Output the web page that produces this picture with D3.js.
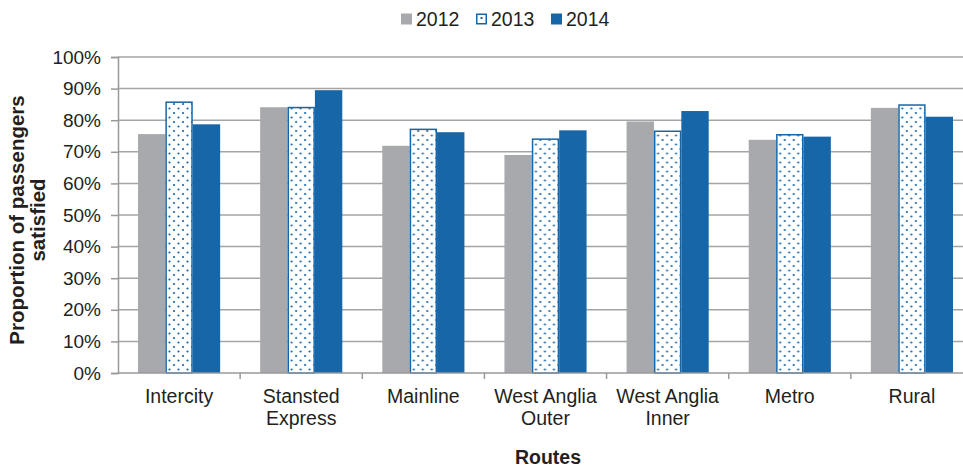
<!DOCTYPE html>
<html>
<head>
<meta charset="utf-8">
<script src="https://cdn.jsdelivr.net/npm/d3@7"></script>
<style>
  body { margin: 0; background: #fff; }
  svg { font-family: "Liberation Sans", Arial, sans-serif; display: block; }
</style>
</head>
<body>
<div id="chart"></div>
<script>

// data
const routes = ["Intercity", "Stansted Express", "Mainline", "West Anglia Outer", "West Anglia Inner", "Metro", "Rural"];
const years = ["2012", "2013", "2014"];
const values2012 = [75.6, 84.1, 71.9, 69.0, 79.6, 73.8, 83.9];
const values2013 = [85.7, 84.0, 77.1, 74.0, 76.5, 75.4, 84.8];
const values2014 = [78.7, 89.5, 76.2, 76.8, 82.9, 74.8, 81.1];
const yTicks = [0, 10, 20, 30, 40, 50, 60, 70, 80, 90, 100];

const series = [values2012, values2013, values2014];
const grey = "#a7a9ac", blue = "#1766a8", ink = "#231f20";

let margin = {top: 57, right: -10, bottom: 97, left: 118};
let W = 963, H = 470;
let width = W - margin.left - margin.right;
let height = H - margin.top - margin.bottom;

let svg = d3.select("#chart").append("svg")
    .attr("width", W)
    .attr("height", H);

// dotted pattern for 2013
let defs = svg.append("defs");
let pat = defs.append("pattern")
    .attr("id", "dots")
    .attr("patternUnits", "userSpaceOnUse")
    .attr("width", 9)
    .attr("height", 9);
pat.append("rect").attr("width", 9).attr("height", 9).attr("fill", "#fff");
pat.append("circle").attr("cx", 2).attr("cy", 2).attr("r", 1.1).attr("fill", blue);
pat.append("circle").attr("cx", 6.5).attr("cy", 6.5).attr("r", 1.1).attr("fill", blue);

let g = svg.append("g")
    .attr("transform", `translate(${margin.left}, ${margin.top})`);

// scales
let x0 = d3.scaleBand()
    .domain(routes)
    .range([0, width])
    .paddingInner(0)
    .paddingOuter(0);

let x1 = d3.scaleBand()
    .domain(years)
    .range([20, x0.bandwidth() - 20]);

let y = d3.scaleLinear()
    .domain([0, 100])
    .range([height, 0]);

// gridlines
g.append("g")
    .selectAll("line")
    .data(yTicks.slice(1))
    .enter().append("line")
    .attr("x1", 0)
    .attr("x2", width)
    .attr("y1", d => y(d))
    .attr("y2", d => y(d))
    .attr("stroke", "#a5a5a5")
    .attr("stroke-width", 1.5);

// bars
let groups = g.selectAll(".route")
    .data(routes)
    .enter().append("g")
    .attr("class", "route")
    .attr("transform", d => `translate(${x0(d)}, 0)`);

groups.selectAll("rect")
    .data((d, i) => years.map((yr, j) => ({year: yr, value: series[j][i]})))
    .enter().append("rect")
    .attr("x", d => x1(d.year) + (d.year === "2013" ? 0.75 : 0))
    .attr("y", d => y(d.value))
    .attr("width", d => x1.bandwidth() - (d.year === "2013" ? 1.5 : 0))
    .attr("height", d => height - y(d.value))
    .attr("fill", d => d.year === "2012" ? grey : d.year === "2013" ? "url(#dots)" : blue)
    .attr("stroke", d => d.year === "2013" ? blue : "none")
    .attr("stroke-width", 1.5);

// y axis
let yAxis = d3.axisLeft(y)
    .tickValues(yTicks)
    .tickSize(7)
    .tickFormat(d => d + "%");

let yg = g.append("g").attr("class", "y-axis").call(yAxis);
yg.select(".domain").attr("stroke", "#999").attr("stroke-width", 1.5);
yg.selectAll(".tick line").attr("stroke", "#999").attr("stroke-width", 1.5);
yg.selectAll(".tick text")
    .attr("x", -17)
    .attr("fill", ink)
    .style("font-size", "19px");

// x axis
let xg = g.append("g")
    .attr("transform", `translate(0, ${height})`);
xg.append("line")
    .attr("x1", 0).attr("x2", width)
    .attr("stroke", "#999").attr("stroke-width", 1.5);
xg.selectAll(".xtick")
    .data(routes.slice(1))
    .enter().append("line")
    .attr("x1", d => x0(d)).attr("x2", d => x0(d))
    .attr("y1", 0).attr("y2", 6)
    .attr("stroke", "#999").attr("stroke-width", 1.5);

let labelLines = {
    "Stansted Express": ["Stansted", "Express"],
    "West Anglia Outer": ["West Anglia", "Outer"],
    "West Anglia Inner": ["West Anglia", "Inner"]
};
xg.selectAll(".xlabel")
    .data(routes)
    .enter().append("text")
    .attr("text-anchor", "middle")
    .attr("fill", ink)
    .style("font-size", "19.5px")
    .each(function(d) {
        let lines = labelLines[d] || [d];
        d3.select(this).selectAll("tspan")
            .data(lines)
            .enter().append("tspan")
            .attr("x", x0(d) + x0.bandwidth() / 2)
            .attr("y", (l, i) => 30 + i * 22)
            .text(l => l);
    });

// axis titles
svg.append("text")
    .attr("x", 548)
    .attr("y", 464)
    .attr("text-anchor", "middle")
    .attr("fill", ink)
    .style("font-size", "19.5px")
    .style("font-weight", "bold")
    .text("Routes");

let yt = svg.append("text")
    .attr("transform", "translate(0, 220) rotate(-90)")
    .attr("text-anchor", "middle")
    .attr("fill", ink)
    .style("font-size", "20.5px")
    .style("font-weight", "bold");
yt.append("tspan").attr("x", 0).attr("y", 24).text("Proportion of passengers");
yt.append("tspan").attr("x", 0).attr("y", 45).text("satisfied");

// legend
let legendX = [401, 476, 551];
let legend = svg.append("g");
years.forEach((yr, i) => {
    let lg = legend.append("g").attr("transform", `translate(${legendX[i]}, 13.5)`);
    lg.append("rect")
        .attr("x", i === 1 ? 0.75 : 0)
        .attr("y", i === 1 ? 0.75 : 0)
        .attr("width", i === 1 ? 9.5 : 11)
        .attr("height", i === 1 ? 9.5 : 11)
        .attr("fill", i === 0 ? grey : i === 1 ? "#fff" : blue)
        .attr("stroke", i === 1 ? blue : "none")
        .attr("stroke-width", 1.5);
    if (i === 1) {
        lg.append("rect").attr("x", 4.5).attr("y", 3.5).attr("width", 2).attr("height", 2).attr("fill", blue);
    }
    lg.append("text")
        .attr("x", 15)
        .attr("y", 12.5)
        .attr("fill", ink)
        .style("font-size", "19.5px")
        .text(yr);
});

</script>
</body>
</html>
